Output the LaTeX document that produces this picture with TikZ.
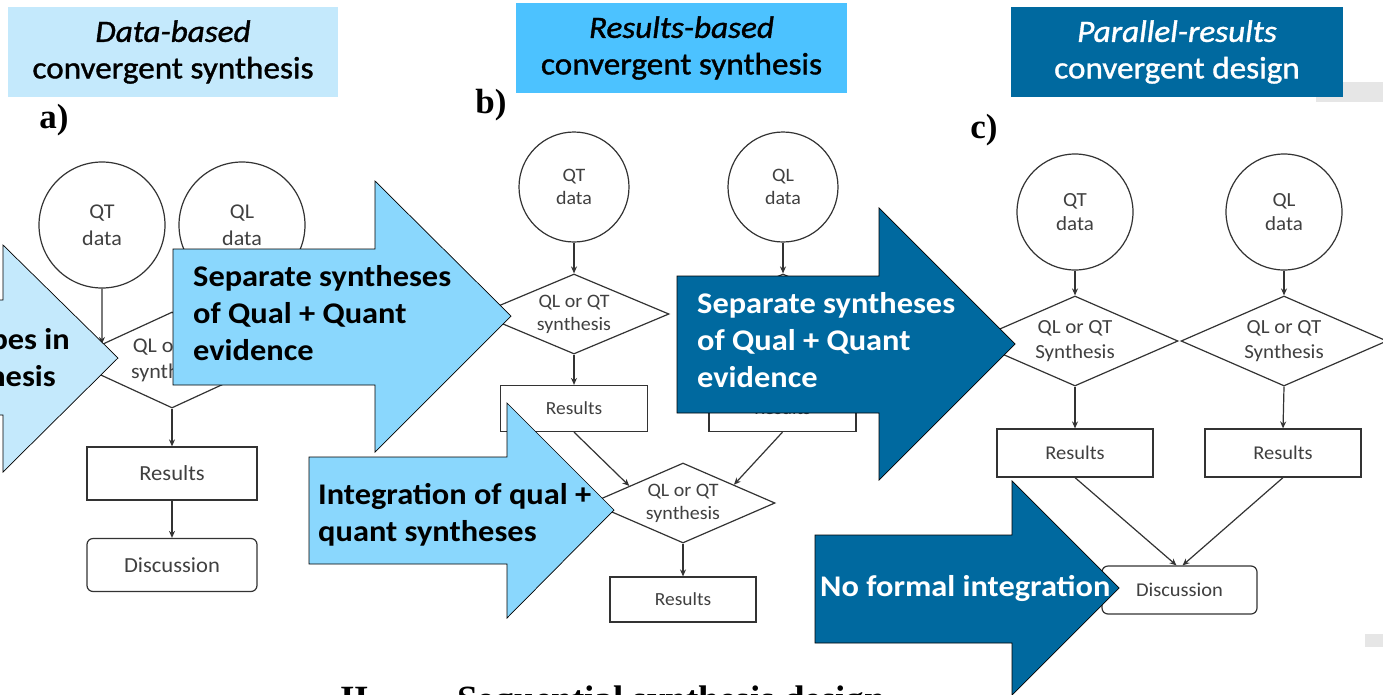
\documentclass[tikz,border=0pt]{standalone}
\usepackage{fontspec}
\setmainfont{Carlito}
\newfontfamily\labelserif{Liberation Serif}
\newfontfamily\widesans{Carlito}[FakeStretch=1.08]
\newfontfamily\headsans{Carlito}[FakeStretch=1.07, FakeBold=1.2]
\newfontfamily\diagsans{Carlito}[FakeStretch=1.05]
\usetikzlibrary{shapes.geometric,arrows.meta,calc}
\definecolor{paleblue}{HTML}{C4E9FC}
\definecolor{skyblue}{HTML}{4CC2FF}
\definecolor{midblue}{HTML}{8AD7FD}
\definecolor{deepblue}{HTML}{00699F}
\definecolor{linegray}{HTML}{333333}
\definecolor{textgray}{HTML}{404040}
\definecolor{stripgray}{HTML}{E6E6E6}
\tikzset{
  flow/.style={draw=linegray, line width=1.2pt, -{Stealth[length=7pt,width=6pt]}},
  shapebase/.style={draw=linegray, line width=1.2pt, fill=white, text=textgray, inner sep=0pt, align=center},
  circA/.style={shapebase, circle, minimum size=126pt, font=\diagsans\fontsize{21}{27}\selectfont},
  circB/.style={shapebase, circle, minimum size=110pt, font=\diagsans\fontsize{19}{23}\selectfont},
  circC/.style={shapebase, circle, minimum size=116pt, font=\diagsans\fontsize{20}{24}\selectfont},
  diaA/.style={shapebase, diamond, aspect=2.2, minimum width=208pt, minimum height=96pt, font=\diagsans\fontsize{21}{26}\selectfont},
  diaB/.style={shapebase, diamond, aspect=2.3, minimum width=190pt, minimum height=80pt, font=\diagsans\fontsize{19}{23}\selectfont},
  diaC/.style={shapebase, diamond, aspect=2.3, minimum width=206pt, minimum height=90pt, font=\diagsans\fontsize{20}{25}\selectfont},
  boxA/.style={shapebase, rectangle, minimum width=170pt, minimum height=53pt, font=\diagsans\fontsize{21.5}{24}\selectfont},
  boxB/.style={shapebase, rectangle, minimum width=147pt, minimum height=46pt, font=\diagsans\fontsize{18.5}{22}\selectfont},
  boxC/.style={shapebase, rectangle, minimum width=156pt, minimum height=48pt, font=\diagsans\fontsize{19.5}{22}\selectfont},
  roundbox/.style={rounded corners=6pt},
  header/.style={inner sep=0pt, align=center, font=\headsans\fontsize{31}{36.5}\selectfont},
  blockarrow/.style={draw=black, line width=0.7pt, line join=miter},
  calltext/.style={inner sep=0pt, align=left, font=\widesans\fontsize{30}{37}\selectfont\bfseries},
  panellabel/.style={inner sep=0pt, font=\fontsize{35}{35}\selectfont\labelserif\bfseries},
  captionfont/.style={inner sep=0pt, anchor=base west, font=\fontsize{37}{37}\selectfont\labelserif\bfseries}
}
\begin{document}
\begin{tikzpicture}[x=1pt,y=-1pt]
\useasboundingbox (0,0) rectangle (1383,694);
\clip (0,0) rectangle (1383,694);
\fill[white] (0,0) rectangle (1383,694);

% grey strips on the scanned page
\fill[stripgray] (1316,82) rectangle (1383,102);
\fill[stripgray] (1365,634) rectangle (1383,647);

% ---------- panel a: data-based convergent synthesis ----------
\node[panellabel] (laba) at (54,120) {a)};
\node[circA] (qta) at (102,225) {QT\\data};
\node[circA] (qla) at (242,225) {QL\\data};
\node[diaA] (da) at (172,360) {QL or QT\\synthesis};
\node[boxA] (ra) at (172,473.5) {Results};
\node[boxA, roundbox] (disca) at (172,565) {Discussion};
\draw[flow] (qta.south) -- ($(da.west)!0.33!(da.north)$);
\draw[flow] (qla.south) -- ($(da.north)!0.67!(da.east)$);
\draw[flow] (da.south) -- (ra.north);
\draw[flow] (ra.south) -- (disca.north);

% ---------- panel b: results-based convergent synthesis ----------
\node[panellabel] (labb) at (491,105) {b)};
\node[circB] (qtb) at (574,187) {QT\\data};
\node[circB] (qlb) at (783,187) {QL\\data};
\node[diaB] (db1) at (574,314) {QL or QT\\synthesis};
\node[diaB] (db2) at (783,314) {QL or QT\\synthesis};
\node[boxB] (rb1) at (574,408.5) {Results};
\node[boxB] (rb2) at (782.5,408.5) {Results};
\node[diaB, minimum width=184pt] (db3) at (683,503) {QL or QT\\synthesis};
\node[boxB, minimum width=146pt, minimum height=45pt] (rb3) at (683,599.5) {Results};
\draw[flow] (qtb.south) -- (db1.north);
\draw[flow] (qlb.south) -- (db2.north);
\draw[flow] (db1.south) -- (rb1.north);
\draw[flow] (db2.south) -- (rb2.north);
\draw[flow] (rb1.south) -- ($(db3.west)!0.42!(db3.north)$);
\draw[flow] (rb2.south) -- ($(db3.north)!0.55!(db3.east)$);
\draw[flow] (db3.south) -- (rb3.north);

% ---------- panel c: parallel-results convergent design ----------
\node[panellabel] (labc) at (984,130) {c)};
\node[circC] (qtc) at (1075,212) {QT\\data};
\node[circC] (qlc) at (1284,212) {QL\\data};
\node[diaC] (dc1) at (1075,341) {QL or QT\\Synthesis};
\node[diaC] (dc2) at (1284,341) {QL or QT\\Synthesis};
\node[boxC] (rc1) at (1075,453) {Results};
\node[boxC] (rc2) at (1283,453) {Results};
\node[boxC, roundbox, minimum width=155pt] (discc) at (1179.5,590) {Discussion};
\draw[flow] (qtc.south) -- (dc1.north);
\draw[flow] (qlc.south) -- (dc2.north);
\draw[flow] (dc1.south) -- (rc1.north);
\draw[flow] (dc2.south) -- (rc2.north);
\draw[flow] (rc1.south) -- ([xshift=-3pt]discc.north);
\draw[flow] (rc2.south) -- ([xshift=3pt]discc.north);

% caption of the next figure part
\node[captionfont] (capnum) at (340,711) {II.};
\node[captionfont] (captext) at (457,711) {Sequential synthesis design};

% ---------- headers ----------
\node[header, fill=paleblue, minimum width=330pt, minimum height=90pt] (hdra) at (173,52)
  {\itshape Data-based\\convergent synthesis};
\node[header, fill=skyblue, minimum width=331pt, minimum height=90pt] (hdrb) at (681.5,48)
  {\itshape Results-based\\convergent synthesis};
\node[header, fill=deepblue, text=white, minimum width=332pt, minimum height=90pt] (hdrc) at (1177,52)
  {\itshape Parallel-results\\convergent design};

% ---------- block arrows ----------
\draw[blockarrow, fill=paleblue] (-60,300) -- (3,300) -- (3,245) -- (118,358) -- (3,472) -- (3,415) -- (-60,415) -- cycle;
\node[calltext, anchor=east] (txt0a) at (70,341) {types in};
\node[calltext, anchor=east] (txt0b) at (56,378) {synthesis};

\draw[blockarrow, fill=midblue] (173,249) -- (375,249) -- (375,181) -- (511,316) -- (375,452) -- (375,385) -- (173,385) -- cycle;
\node[calltext, anchor=west] (txt1) at (193,313) {Separate syntheses\\of Qual + Quant\\evidence};

\draw[blockarrow, fill=midblue] (309,457) -- (507,457) -- (507,403) -- (614,510) -- (507,618) -- (507,564) -- (309,564) -- cycle;
\node[calltext, anchor=west] (txt2) at (318,515) {Integration of qual +\\quant syntheses};

\draw[blockarrow, fill=deepblue] (677,276) -- (879,276) -- (879,208) -- (1015,344) -- (879,480) -- (879,413) -- (677,413) -- cycle;
\node[calltext, anchor=west, text=white] (txt3) at (697,340) {Separate syntheses\\of Qual + Quant\\evidence};

\draw[blockarrow, fill=deepblue] (815,535) -- (1012,535) -- (1012,481) -- (1119,588) -- (1012,695) -- (1012,643) -- (815,643) -- cycle;
\node[calltext, anchor=west, text=white] (txt4) at (820,588) {No formal integration};
\end{tikzpicture}
\end{document}
